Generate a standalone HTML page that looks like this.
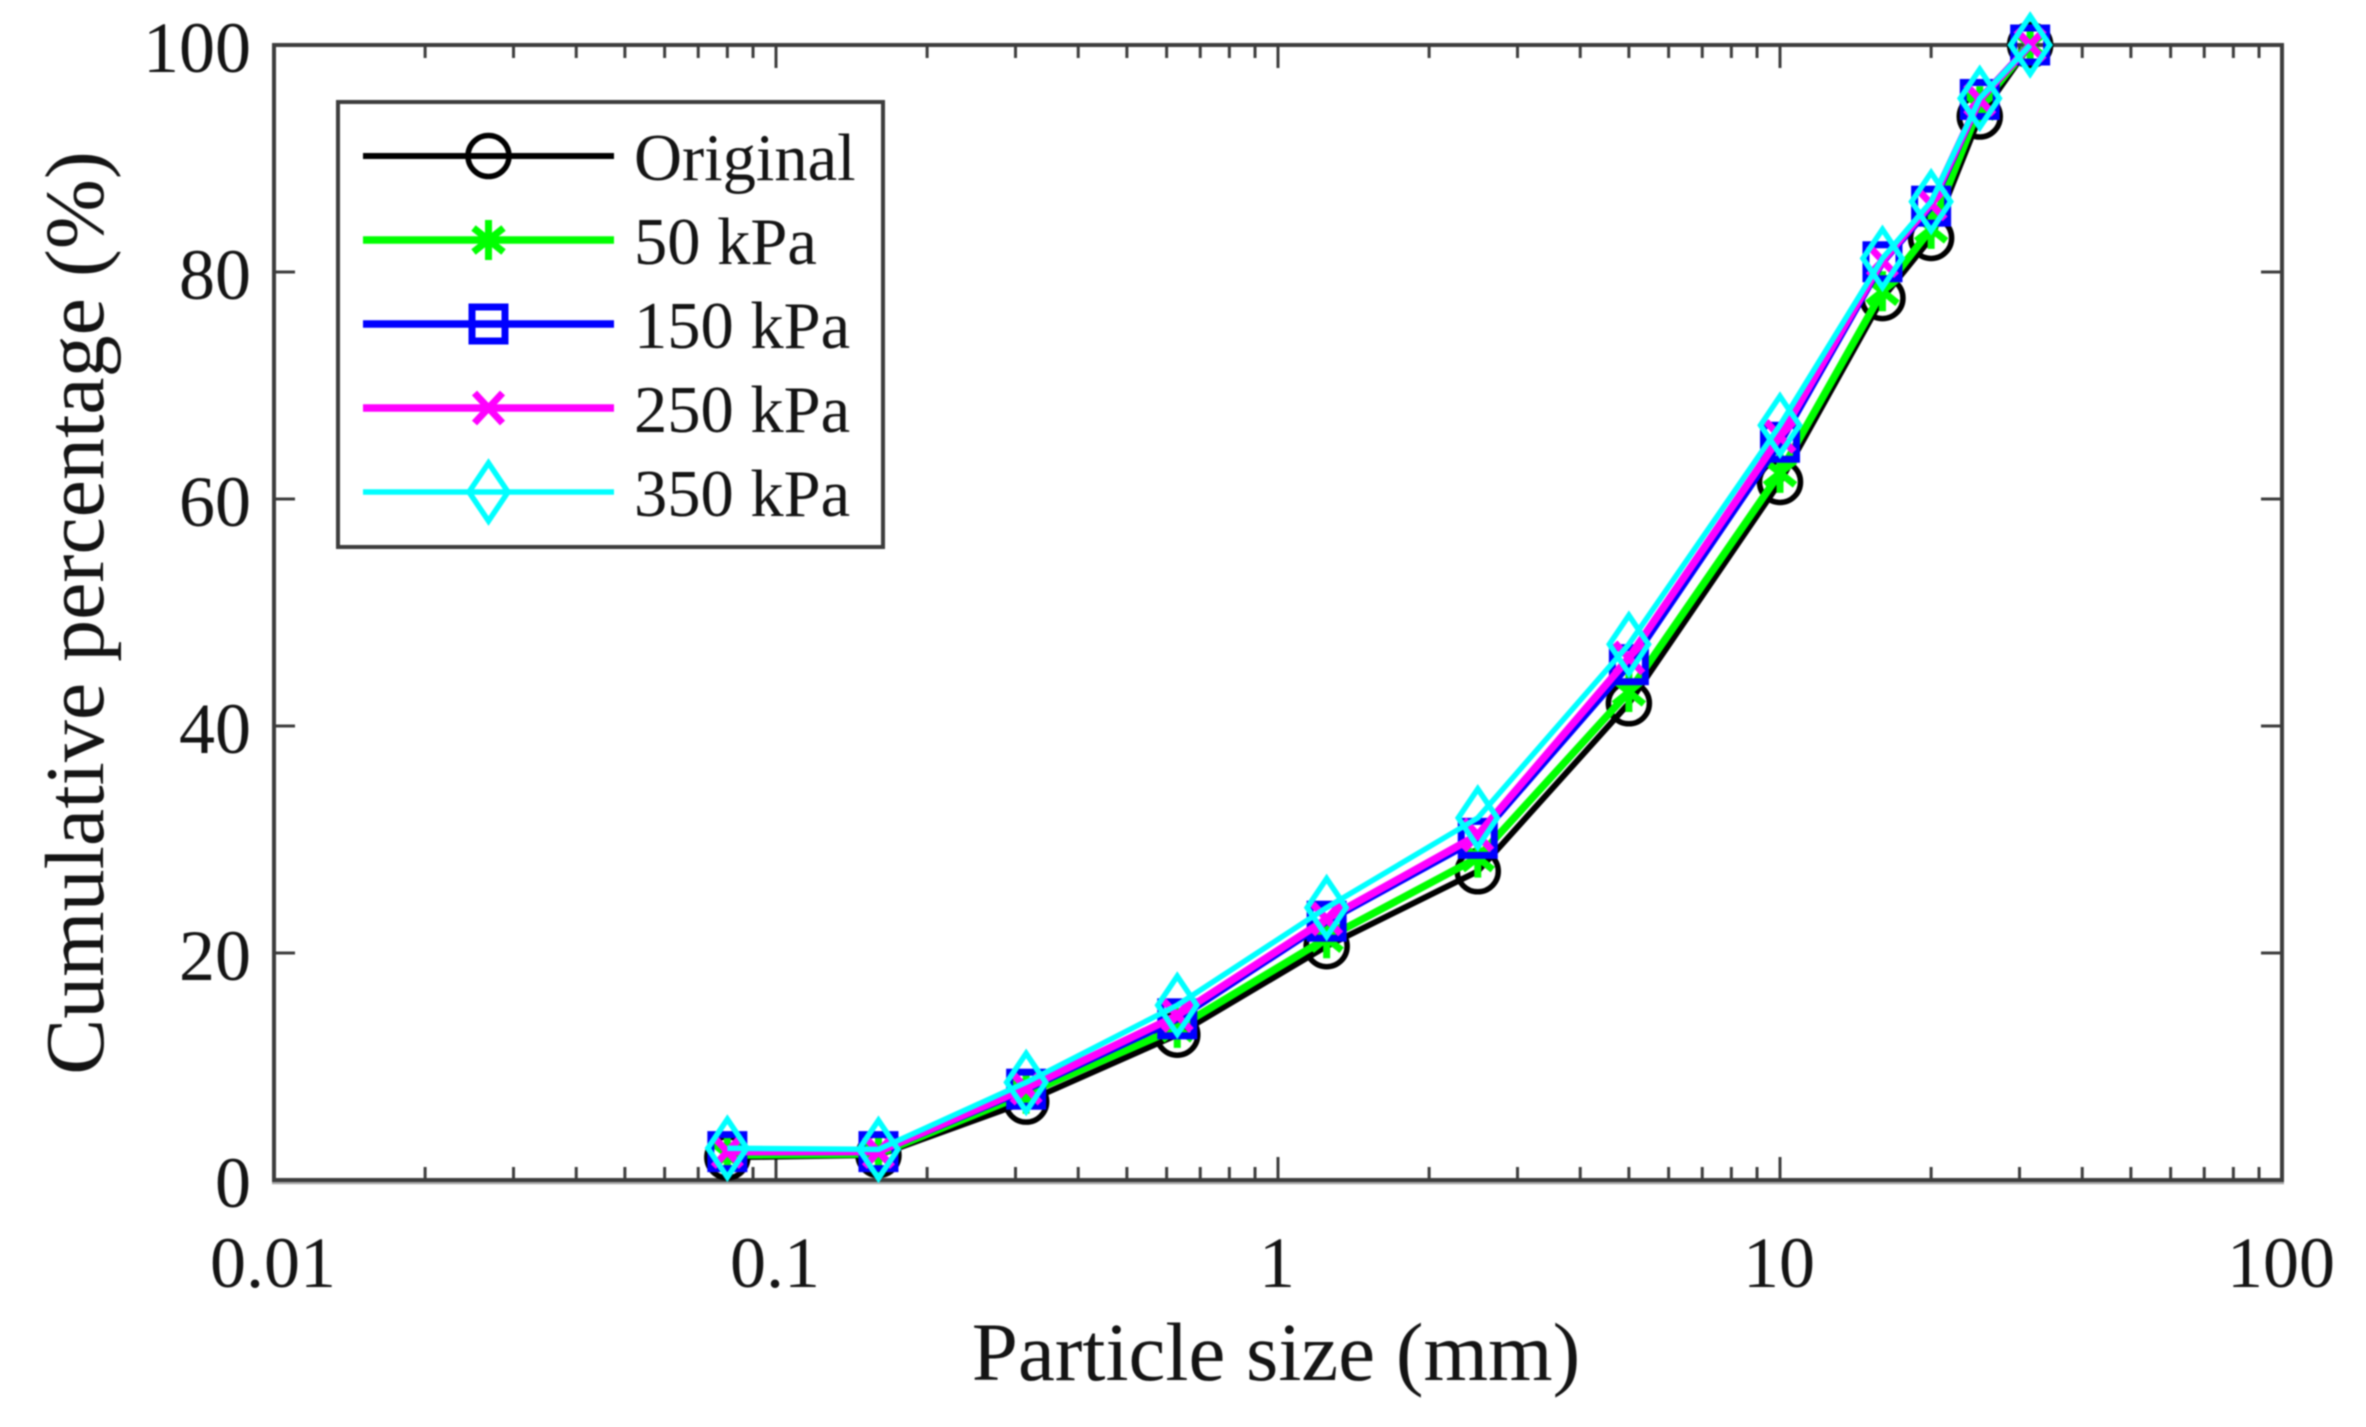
<!DOCTYPE html>
<html lang="en">
<head>
<meta charset="utf-8">
<title>Cumulative percentage vs particle size</title>
<style>
html,body{margin:0;padding:0;background:#fff;}
svg{display:block;filter:blur(0.7px);}
text{font-family:"Liberation Serif","Times New Roman",serif;fill:#141414;}
</style>
</head>
<body>
<svg id="chart" xmlns="http://www.w3.org/2000/svg" width="2366" height="1427" viewBox="0 0 2366 1427"></svg>
<script>
const particleSizes = [0.08, 0.16, 0.315, 0.63, 1.25, 2.5, 5, 10, 16, 20, 25, 31.5];
const originalValues = [2, 2.2, 6.9, 12.8, 20.6, 27.2, 42, 61.5, 77.7, 83, 93.7, 100];
const kpa50Values = [2.2, 2.3, 7.6, 13.4, 21.3, 28.4, 43, 62.3, 78.3, 83.8, 94.6, 100];
const kpa150Values = [2.5, 2.5, 8, 14.2, 22.8, 30.1, 45.4, 65, 80.9, 85.8, 95.2, 100];
const kpa250Values = [2.5, 2.5, 8.1, 14.5, 23, 30.4, 46, 65.5, 81, 86, 95.2, 100];
const kpa350Values = [2.8, 2.7, 8.6, 15.4, 24, 31.9, 47.2, 66.5, 81.2, 86.2, 95.3, 100];
const xTickValues = [0.01, 0.1, 1, 10, 100];
const xTickLabels = ['0.01', '0.1', '1', '10', '100'];
const yTickValues = [0, 20, 40, 60, 80, 100];
const yTickLabels = ['0', '20', '40', '60', '80', '100'];
const seriesNames = ['Original', '50 kPa', '150 kPa', '250 kPa', '350 kPa'];

const NS = 'http://www.w3.org/2000/svg';
const svg = document.getElementById('chart');
const L = 274, R = 2282, T = 45, B = 1180;
const AXIS = '#3c3c3c';
const xMin = 0.01, xMax = 100, yMin = 0, yMax = 100;
function xScale(v) { return L + (Math.log10(v) - Math.log10(xMin)) / (Math.log10(xMax) - Math.log10(xMin)) * (R - L); }
function yScale(v) { return B - (v - yMin) / (yMax - yMin) * (B - T); }
function make(tag, attrs, parent) {
  const n = document.createElementNS(NS, tag);
  for (const k in attrs) n.setAttribute(k, attrs[k]);
  (parent || svg).appendChild(n);
  return n;
}
function seg(parent, x1, y1, x2, y2, color, w) {
  return make('line', {x1: x1, y1: y1, x2: x2, y2: y2, stroke: color, 'stroke-width': w, fill: 'none'}, parent);
}

/* marker drawing: shape is styling, position comes from the caller */
function drawMarker(parent, kind, cx, cy, color) {
  if (kind === 'circle') {
    make('circle', {cx: cx, cy: cy, r: 20.5, fill: 'none', stroke: color, 'stroke-width': 5.5}, parent);
  } else if (kind === 'star') {
    seg(parent, cx, cy - 20, cx, cy + 20, color, 7);
    seg(parent, cx - 15, cy - 12, cx + 15, cy + 12, color, 7);
    seg(parent, cx - 15, cy + 12, cx + 15, cy - 12, color, 7);
  } else if (kind === 'square') {
    make('rect', {x: cx - 16.5, y: cy - 17, width: 33, height: 34, fill: 'none', stroke: color, 'stroke-width': 7}, parent);
  } else if (kind === 'cross') {
    seg(parent, cx - 14, cy - 15, cx + 14, cy + 15, color, 7);
    seg(parent, cx - 14, cy + 15, cx + 14, cy - 15, color, 7);
  } else if (kind === 'diamond') {
    make('polygon', {points: [cx, cy - 29, cx + 19.5, cy, cx, cy + 29, cx - 19.5, cy].join(' '), fill: 'none', stroke: color, 'stroke-width': 5.5}, parent);
  }
}

/* bottom-edge shadow */
const axisShadow = seg(svg, L - 2, B + 3, R + 2, B + 3, '#a8a8a8', 2.5);



/* x ticks */
const xTicks = make('g', {});


for (let d = 0; d < xTickValues.length; d++) {
  const base = xTickValues[d];
  if (d > 0) {
    for (const edge of [[B, -1], [T, 1]]) {
      seg(xTicks, xScale(base), edge[0], xScale(base), edge[0] + edge[1] * 23, AXIS, 3);
    }
  }
  if (d < xTickValues.length - 1) {
    for (let m = 2; m <= 9; m++) {
      const px = xScale(base * m);
      seg(xTicks, px, B, px, B - 13, AXIS, 3);
      seg(xTicks, px, T, px, T + 13, AXIS, 3);
    }
  }
}

/* y ticks */
const yTicks = make('g', {});


yTickValues.forEach(function (v) {
  seg(yTicks, L, yScale(v), L + 21, yScale(v), AXIS, 3);
  seg(yTicks, R, yScale(v), R - 21, yScale(v), AXIS, 3);
});

/* axes box */
const frame = make('rect', {x: L, y: T, width: R - L, height: B - T, fill: 'none', stroke: AXIS, 'stroke-width': 4});



/* tick labels */
xTickValues.forEach(function (v, i) {
  const t = make('text', {x: xScale(v) - 1, y: 1287, 'text-anchor': 'middle', 'font-size': 72});
  t.textContent = xTickLabels[i];
  
  
});
yTickValues.forEach(function (v, i) {
  const t = make('text', {x: 251, y: yScale(v) + 27, 'text-anchor': 'end', 'font-size': 72});
  t.textContent = yTickLabels[i];
  
  
});

/* axis titles */
const xTitle = make('text', {x: 1276, y: 1380, 'text-anchor': 'middle', 'font-size': 83});
xTitle.textContent = 'Particle size (mm)';


const yTitle = make('text', {x: 0, y: 0, 'text-anchor': 'middle', 'font-size': 84, transform: 'translate(103 613) rotate(-90)'});
yTitle.textContent = 'Cumulative percentage (%)';



/* series */
const seriesValues = [originalValues, kpa50Values, kpa150Values, kpa250Values, kpa350Values];
const seriesColors = ['#000000', '#00ff00', '#0000ff', '#ff00ff', '#00ffff'];
const seriesMarkers = ['circle', 'star', 'square', 'cross', 'diamond'];
const seriesWidths = [6, 7.5, 7.5, 7.5, 5.5];
seriesValues.forEach(function (values, s) {
  const g = make('g', {});
  
  
  const pts = values.map(function (v, i) { return xScale(particleSizes[i]) + ',' + yScale(v); }).join(' ');
  const line = make('polyline', {points: pts, fill: 'none', stroke: seriesColors[s], 'stroke-width': seriesWidths[s], 'stroke-linejoin': 'round'}, g);
  
  
  values.forEach(function (v, i) {
    drawMarker(g, seriesMarkers[s], xScale(particleSizes[i]), yScale(v), seriesColors[s]);
  });
});

/* legend */
const legend = make('g', {});


make('rect', {x: 338, y: 102, width: 545, height: 445, fill: '#fff', stroke: AXIS, 'stroke-width': 4}, legend);
seriesNames.forEach(function (name, i) {
  const cy = 156 + i * 84;
  const entry = make('g', {}, legend);
  
  
  seg(entry, 363, cy, 614, cy, seriesColors[i], seriesWidths[i]);
  drawMarker(entry, seriesMarkers[i], 488.5, cy, seriesColors[i]);
  const t = make('text', {x: 634, y: cy + 24, 'font-size': 66.5}, entry);
  t.textContent = name;
  
  
});
</script>
</body>
</html>
